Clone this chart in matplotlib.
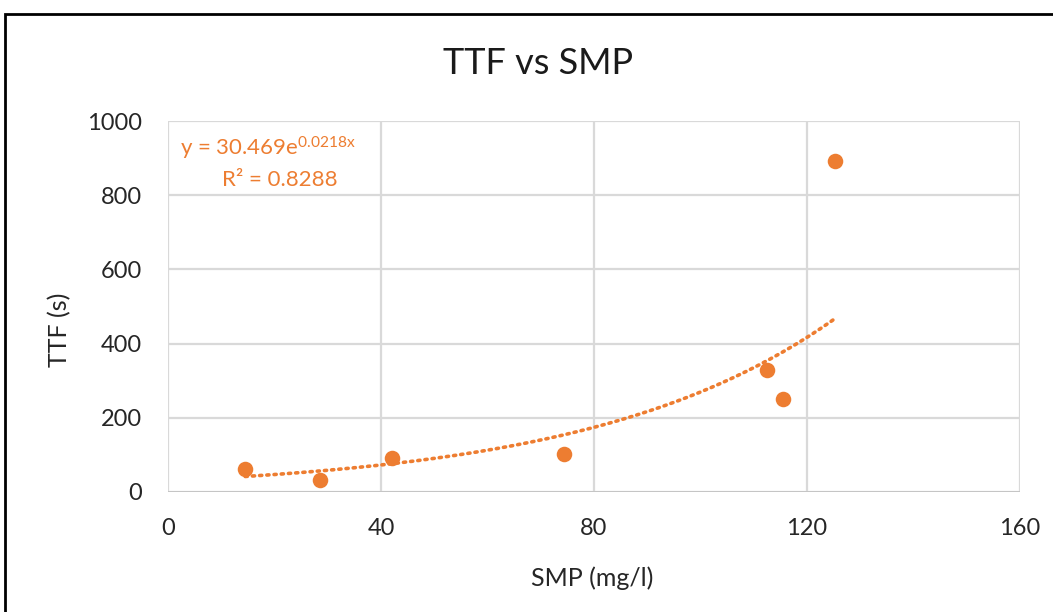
import numpy as np
import matplotlib
matplotlib.use("Agg")
import matplotlib.pyplot as plt
from matplotlib.patches import Rectangle

# Data
smp = [14.5, 28.5, 42.0, 74.3, 112.5, 115.5, 125.3]
ttf = [63, 33, 92, 103, 328, 252, 893]
fit_a = 30.469
fit_b = 0.0218
r2 = 0.8288
x_ticks = [0, 40, 80, 120, 160]
y_ticks = [0, 200, 400, 600, 800, 1000]

orange = "#ED7D31"
plt.rcParams['font.family'] = ['Lato', 'DejaVu Sans']
plt.rcParams['mathtext.fontset'] = 'custom'
plt.rcParams['mathtext.rm'] = 'Lato'
plt.rcParams['mathtext.it'] = 'Lato'

fig = plt.figure(figsize=(10.53, 6.12), dpi=100)
ax = fig.add_axes([168/1053, 1-492/612, (1020-168)/1053, (492-121)/612])

ax.set_xlim(0, 160)
ax.set_ylim(0, 1000)
ax.set_xticks(x_ticks)
ax.set_yticks(y_ticks)
ax.grid(True, color="#d9d9d9", linewidth=1.6)
ax.set_axisbelow(True)
for s in ax.spines.values():
    s.set_visible(False)
ax.axhline(0, color="#bfbfbf", linewidth=1.8, zorder=1)
ax.tick_params(length=0, labelsize=17, colors="#262626", pad=19)

xs = np.linspace(min(smp), max(smp), 200)
ax.plot(xs, fit_a*np.exp(fit_b*xs), color=orange, linestyle=(0, (0.6, 1.4)),
        linewidth=2.6, dash_capstyle='round', zorder=2)
ax.scatter(smp, ttf, s=125, color=orange, zorder=3, linewidths=0)

ax.text(2.2, 906, r"y = 30.469e$^{0.0218x}$", color=orange, fontsize=16, va='baseline')
ax.text(10.1, 825, "R² = 0.8288", color=orange, fontsize=16, va='baseline')

ax.set_xlabel("SMP (mg/l)", fontsize=18, color="#262626")
ax.set_ylabel("TTF (s)", fontsize=18, color="#262626")
ax.xaxis.set_label_coords(0.498, -0.200)
ax.yaxis.set_label_coords(-0.114, 0.437)
fig.text(538/1053, 1-63/612, "TTF vs SMP", fontsize=26, ha='center', va='center', color="#1a1a1a")

fig.patches.append(Rectangle((5/1053, -0.1), 1.2, 1-14/612+0.1, transform=fig.transFigure,
                             fill=False, edgecolor="black", linewidth=2))

fig.savefig("out.png", dpi=100)
